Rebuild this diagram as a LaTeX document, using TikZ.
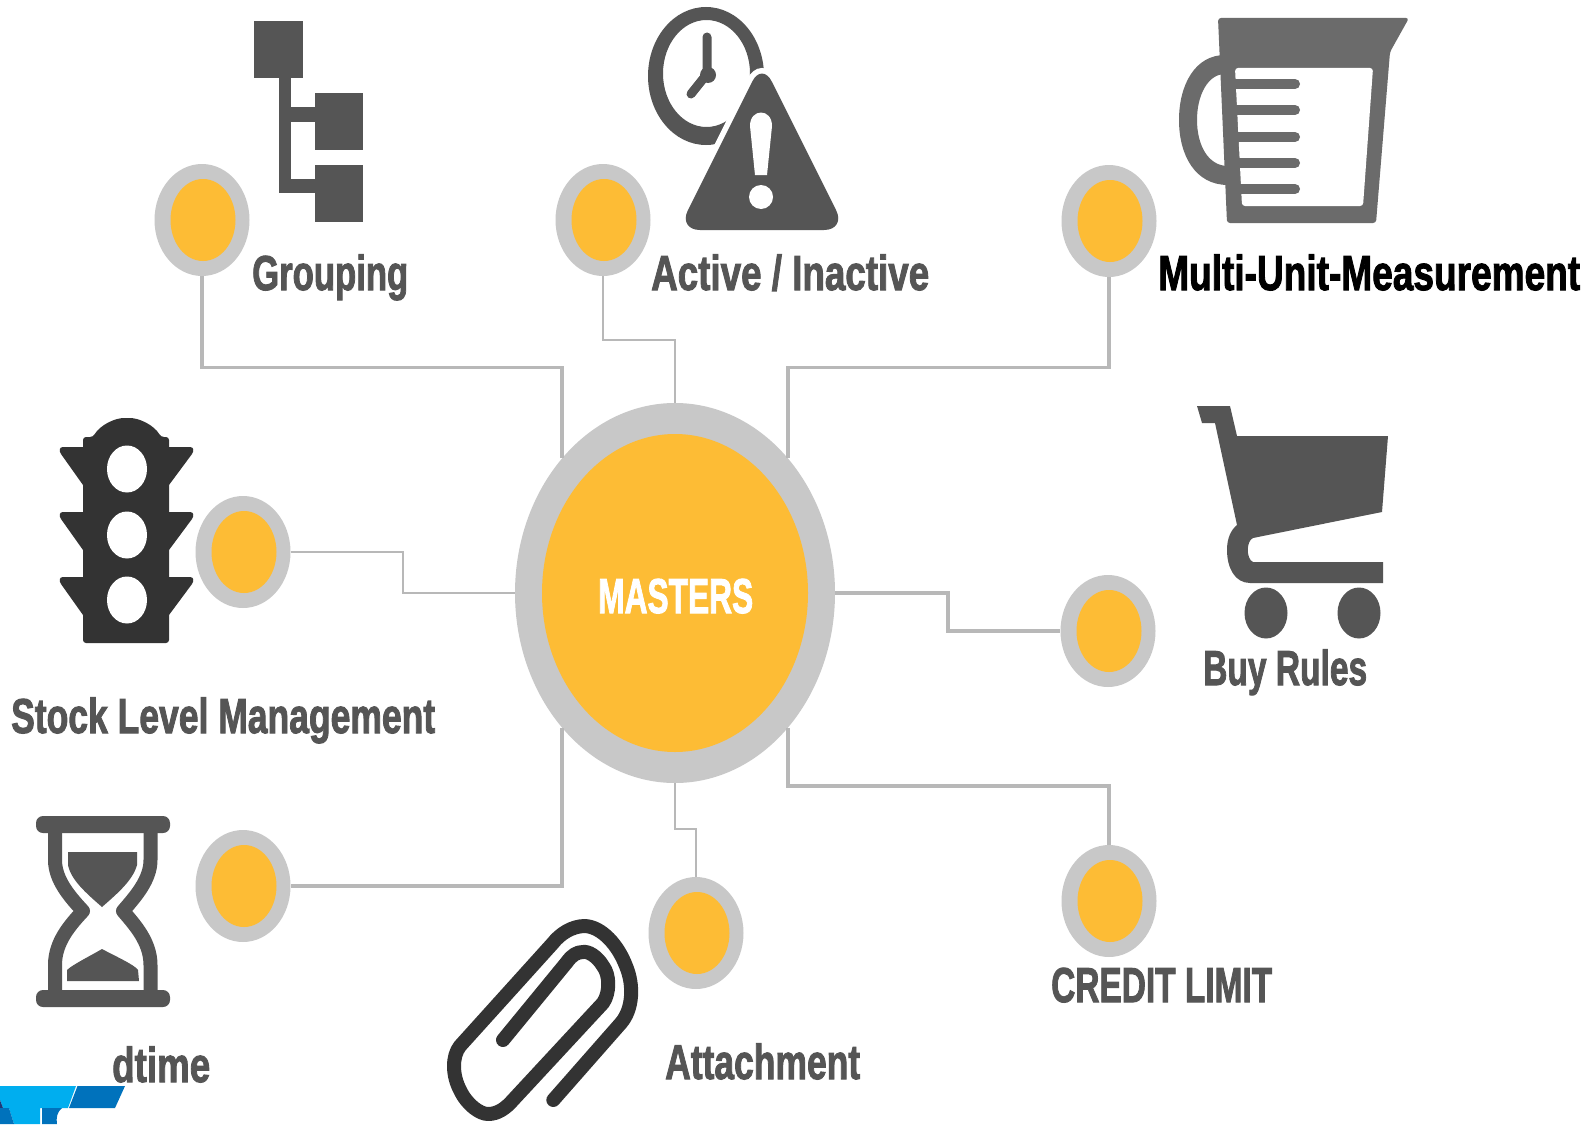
\documentclass[tikz,border=0pt]{standalone}
\usepackage{fontspec}
\usepackage{graphicx}
\setmainfont{Liberation Sans}
\usetikzlibrary{shapes.geometric}
\definecolor{ring}{HTML}{C8C8C8}
\definecolor{sun}{HTML}{FDBC35}
\definecolor{wire}{HTML}{B8B8B8}
\definecolor{icon}{HTML}{555555}
\definecolor{jug}{HTML}{6B6B6B}
\definecolor{deep}{HTML}{333333}
\definecolor{logolight}{HTML}{00AEEF}
\definecolor{logoblue}{HTML}{0072BC}
\definecolor{logonavy}{HTML}{1B3A7A}
\tikzset{
 x=1pt,y=-1pt,
 smallring/.style={ellipse,fill=ring,minimum width=95pt,minimum height=112pt,inner sep=0pt},
 smallsun/.style={ellipse,fill=sun,minimum width=65pt,minimum height=82pt,inner sep=0pt},
 wirea/.style={draw=wire,line width=3.6pt},
 wireb/.style={draw=wire,line width=2.4pt},
 lab/.style={anchor=base west,inner sep=0pt,font=\fontsize{49}{49}\selectfont\bfseries\addfontfeature{FakeBold=2.2}},
}
\newcommand{\fitw}[2]{\resizebox{#1pt}{\height}{#2}}
\begin{document}
\begin{tikzpicture}
\useasboundingbox (0,0) rectangle (1595,1124);
\fill[white] (0,0) rectangle (1595,1124);

% centre
\node[ellipse,fill=ring,minimum width=320pt,minimum height=380pt,inner sep=0pt] (master) at (675,593) {};
\node[ellipse,fill=sun,minimum width=266pt,minimum height=318pt,inner sep=0pt] (mastercore) at (675,593) {};
\node[lab,text=white] (mastertext) at (598,613) {\fitw{155}{MASTERS}};

% satellites
\node[smallring] (grp) at (202,220) {}; \node[smallsun] (grpc) at (203,220) {};
\node[smallring] (act) at (603,220) {}; \node[smallsun] (actc) at (604,220) {};
\node[smallring] (mum) at (1109,221) {}; \node[smallsun] (mumc) at (1110,221) {};
\node[smallring] (stk) at (243,552) {}; \node[smallsun] (stkc) at (244,552) {};
\node[smallring] (buy) at (1108,631) {}; \node[smallsun] (buyc) at (1109,631) {};
\node[smallring] (dtm) at (243,886) {}; \node[smallsun] (dtmc) at (244,886) {};
\node[smallring] (att) at (696,933) {}; \node[smallsun] (attc) at (697,933) {};
\node[smallring] (crd) at (1109,901) {}; \node[smallsun] (crdc) at (1110,901) {};

% connector ends on the big ring
\coordinate (mnw) at (562,458);
\coordinate (mne) at (788,458);
\coordinate (msw) at (562,728);
\coordinate (mse) at (788,728);
\coordinate (y1) at (0,367.5);
\coordinate (y2) at (0,340);
\coordinate (y3) at (0,786);
\coordinate (y4) at (0,829);
\coordinate (x1) at (403,0);
\coordinate (x2) at (948,0);

\draw[wirea] (grp.south) |- (mnw |- y1) -- (mnw);
\draw[wireb] (act.south) |- (master.north |- y2) -- (master.north);
\draw[wirea] (mum.south) |- (mne |- y1) -- (mne);
\draw[wireb] (stk.east) -| (x1 |- master.west) -- (master.west);
\draw[wirea] (master.east) -| (x2 |- buy.west) -- (buy.west);
\draw[wirea] (mse) |- (crd.north |- y3) -- (crd.north);
\draw[wirea] (dtm.east) -| (msw);
\draw[wireb] (master.south) |- (att.north |- y4) -- (att.north);

% labels
\node[lab,text=icon] (tgrp) at (252,290) {\fitw{156}{Grouping}};
\node[lab,text=icon] (tact) at (651,290) {\fitw{278}{Active / Inactive}};
\node[lab,text=black] (tmum) at (1158,290) {\fitw{422}{Multi-Unit-Measurement}};
\node[lab,text=icon] (tstk) at (11,733) {\fitw{424}{Stock Level Management}};
\node[lab,text=icon] (tbuy) at (1203,685) {\fitw{164}{Buy Rules}};
\node[lab,text=icon] (tdtm) at (112,1082) {\fitw{98}{dtime}};
\node[lab,text=icon] (tatt) at (665,1079) {\fitw{195}{Attachment}};
\node[lab,text=icon] (tcrd) at (1051,1002) {\fitw{221}{CREDIT LIMIT}};

% grouping icon
\fill[icon] (254,21) rectangle (303,78);
\fill[icon] (315,93) rectangle (363,150);
\fill[icon] (315,165) rectangle (363,222);
\fill[icon] (279,78) rectangle (291,193);
\fill[icon] (291,107) rectangle (315,122);
\fill[icon] (291,179) rectangle (315,193);

% clock and warning
\fill[icon,even odd rule] (706,76) ellipse [x radius=58,y radius=69]
      (706.5,73.5) ellipse [x radius=43.5,y radius=53.5];
\draw[icon,line width=9pt,line cap=round,line join=round] (707,37) -- (707,74) -- (691,94);
\fill[icon] (708,75) circle (8);
\filldraw[fill=icon,draw=white,line width=11pt,rounded corners=22pt] (762,62) -- (846,230) -- (678,230) -- cycle;
\fill[icon,rounded corners=22pt] (762,62) -- (846,230) -- (678,230) -- cycle;
\fill[white] (750,126) .. controls (750,108) and (772,108) .. (772,126) -- (767,175) -- (755,175) -- cycle;
\fill[white] (761,197) circle (12);

% jug
\fill[jug,even odd rule] (1225,55) .. controls (1195,55) and (1179,85) .. (1179,120)
   .. controls (1179,155) and (1195,185) .. (1228,185) -- (1228,166)
   .. controls (1208,166) and (1197,145) .. (1197,120)
   .. controls (1197,95) and (1208,74) .. (1225,74) -- cycle;
\fill[jug,rounded corners=3pt] (1218,18) -- (1409,18) -- (1390,52) -- (1376,223) -- (1227,223) -- cycle;
\fill[white,rounded corners=3pt] (1235,68) -- (1373,68) -- (1363,206) -- (1242,206) -- cycle;
\foreach \yy/\xx in {84/1235,110/1236,137/1237,163/1238,189/1240}
  \draw[jug,line width=10pt,line cap=round] (\xx,\yy) -- (1295,\yy);

% traffic light
\fill[deep,rounded corners=3pt] (83,437) -- (93,437) .. controls (100,425) and (115,418) .. (127,418)
   .. controls (139,418) and (154,425) .. (161,437) -- (169,437) -- (169,643) -- (83,643) -- cycle;
\foreach \yy in {447,512,577}{
  \fill[deep] (90,\yy) -- (63,\yy) .. controls (59,\yy) and (59,\yy+4) .. (61,\yy+7) -- (83,\yy+38) -- (90,\yy+38) -- cycle;
  \fill[deep] (162,\yy) -- (190,\yy) .. controls (194,\yy) and (194,\yy+4) .. (192,\yy+7) -- (169,\yy+38) -- (162,\yy+38) -- cycle;
}
\foreach \yy in {469,535,600}
  \fill[white] (127,\yy) ellipse [x radius=20,y radius=23.5];

% cart
\fill[icon] (1197,406) -- (1230,406) -- (1237,436) -- (1388,436) -- (1382,512) -- (1253,538)
   .. controls (1246,541) and (1246,559) .. (1253,562) -- (1383,562) -- (1383,583) -- (1250,583)
   .. controls (1235,583) and (1227,568) .. (1227,550)
   .. controls (1227,538) and (1231,530) .. (1237,525) -- (1215,423) -- (1202,423) -- cycle;
\fill[icon] (1266,613) ellipse [x radius=21.5,y radius=25.5];
\fill[icon] (1359,613) ellipse [x radius=21.5,y radius=25.5];

% paper clip
\draw[deep,line width=14pt,line cap=round,line join=round]
  (553.3,1100) -- (621,1023) .. controls (633,1009) and (634,985) .. (626,966)
  .. controls (618,945) and (602,927) .. (585,926)
  .. controls (572,926) and (560,934) .. (553,943) -- (460,1046)
  .. controls (452,1056) and (452,1075) .. (460,1090)
  .. controls (467,1105) and (480,1114) .. (488,1114)
  .. controls (498,1114) and (506,1108) .. (513,1100) -- (603,1003)
  .. controls (610,993) and (610,975) .. (603,966)
  .. controls (597,956) and (588,951) .. (583,952)
  .. controls (577,952) and (572,955) .. (567,962) -- (503,1040);

% hourglass
\fill[icon,rounded corners=7pt] (36,816) rectangle (170,833);
\fill[icon,rounded corners=7pt] (36,990) rectangle (170,1007);
\draw[icon,line width=14pt,line cap=round,line join=round]
  (55,833) -- (55,860) .. controls (55,880) and (70,897) .. (83,911)
  .. controls (70,925) and (55,942) .. (55,965) -- (55,990);
\draw[icon,line width=14pt,line cap=round,line join=round]
  (150.5,833) -- (150.5,860) .. controls (150.5,880) and (135,897) .. (123,911)
  .. controls (135,925) and (150.5,942) .. (150.5,965) -- (150.5,990);
\fill[icon] (68,852) -- (137,852) -- (137,865) .. controls (133,880) and (118,893) .. (102,907)
  .. controls (86,893) and (71,880) .. (68,865) -- cycle;
\fill[icon] (102,949) .. controls (115,956) and (135,965) .. (138,970) -- (139,981) -- (67,981) -- (67,970)
  .. controls (72,965) and (90,956) .. (102,949) -- cycle;

% logo fragment
\fill[logolight] (0,1086) -- (76,1086) -- (68,1108) -- (40,1108) -- (40,1124) -- (14,1124) -- (9,1108) -- (3,1108) -- (0,1100) -- cycle;
\fill[logonavy] (0,1100) -- (3,1108) -- (0,1108) -- cycle;
\fill[logoblue] (0,1108) -- (9,1108) -- (14,1124) -- (0,1124) -- cycle;
\fill[logoblue] (77.5,1086) -- (125,1086) -- (115,1108) -- (69,1108) -- cycle;
\fill[logoblue] (42,1108) -- (62,1108) .. controls (57,1112) and (56,1118) .. (57,1124) -- (42,1124) -- cycle;
\end{tikzpicture}
\end{document}
